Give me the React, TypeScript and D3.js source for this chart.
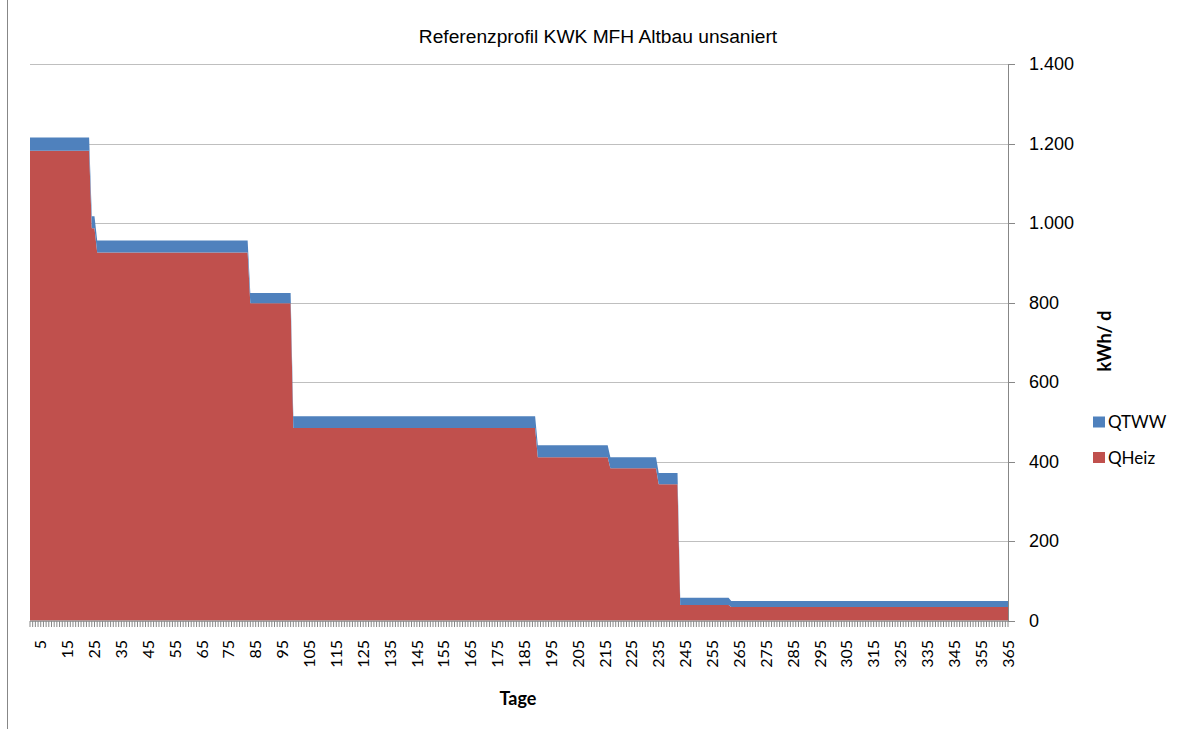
import React from "react";
import * as d3 from "d3";

// Step segments of the daily profile (days, kWh/d)
const segStart = [1, 24, 26, 83, 99, 190, 217, 235, 243, 262];
const segEnd = [23, 25, 82, 98, 189, 216, 234, 242, 261, 365];
const qHeiz = [1182, 987, 926, 798, 484, 411, 383, 343, 39, 34];
const qTWW = [33, 30, 30, 26, 30, 30, 28, 28, 18, 15];

const seriesKeys = ["QHeiz", "QTWW"];
const seriesColors: Record<string, string> = { QHeiz: "#C0504D", QTWW: "#4F81BD" };
const legendOrder = ["QTWW", "QHeiz"];
const yTicks = [0, 200, 400, 600, 800, 1000, 1200, 1400];
const xLabelDays = d3.range(5, 366, 10);

const title = "Referenzprofil KWK MFH Altbau unsaniert";
const xTitle = "Tage";
const yTitle = "kWh/ d";

type Row = { day: number; QHeiz: number; QTWW: number };

const rows: Row[] = [];
segStart.forEach((s, i) => {
  for (let d = s; d <= segEnd[i]; d++) {
    rows.push({ day: d, QHeiz: qHeiz[i], QTWW: qTWW[i] });
  }
});

const fmt = (v: number) => d3.format(",")(v).replace(/,/g, ".");

export default function App() {
  const W = 1186, H = 729;
  const left = 30, right = 1008, top = 64, bottom = 620.5;
  const x = d3.scaleLinear().domain([1, 365]).range([left, right]);
  const y = d3.scaleLinear().domain([0, 1400]).range([bottom, top]);
  const stack = d3.stack<Row>().keys(seriesKeys);
  const layers = stack(rows);
  const area = d3
    .area<d3.SeriesPoint<Row>>()
    .x((d) => x(d.data.day))
    .y0((d) => y(d[0]))
    .y1((d) => y(d[1]));
  const allDays = d3.range(1, 366);
  const axisFont = "'Liberation Sans', Arial, sans-serif";
  const calFont = "Lato, 'Open Sans', sans-serif";

  return (
    <svg
      width={W}
      height={H}
      style={{ position: "absolute", left: 0, top: 0, background: "#fff" }}
    >
      <rect x={0} y={0} width={W} height={H} fill="#fff" />
      <line x1={7.5} x2={7.5} y1={0} y2={H} stroke="#878787" strokeWidth={1} />
      <text
        x={598}
        y={43}
        textAnchor="middle"
        fontFamily={axisFont}
        fontSize={19.2}
        fill="#000"
      >
        {title}
      </text>
      {yTicks.map((t) => (
        <line
          key={"g" + t}
          x1={left}
          x2={right}
          y1={Math.round(y(t)) + 0.5}
          y2={Math.round(y(t)) + 0.5}
          stroke="#BFBFBF"
          strokeWidth={1}
        />
      ))}
      {layers.map((layer) => (
        <path key={layer.key} d={area(layer) || ""} fill={seriesColors[layer.key]} />
      ))}
      {/* x axis */}
      <line x1={left} x2={right} y1={621} y2={621} stroke="#878787" strokeWidth={1} />
      {allDays.map((d) => (
        <line
          key={"xt" + d}
          x1={x(d)}
          x2={x(d)}
          y1={621}
          y2={627}
          stroke="#878787"
          strokeWidth={1}
        />
      ))}
      {xLabelDays.map((d) => (
        <text
          key={"xl" + d}
          transform={`translate(${x(d)},640) rotate(-90)`}
          textAnchor="end"
          dy="0.35em"
          fontFamily={calFont}
          fontSize={16}
          fill="#000"
        >
          {d}
        </text>
      ))}
      {/* right y axis */}
      <line x1={right + 0.5} x2={right + 0.5} y1={top} y2={621} stroke="#878787" strokeWidth={1} />
      {yTicks.map((t) => (
        <g key={"yt" + t}>
          <line
            x1={right}
            x2={right + 7}
            y1={Math.round(y(t)) + 0.5}
            y2={Math.round(y(t)) + 0.5}
            stroke="#878787"
            strokeWidth={1}
          />
          <text
            x={1029}
            y={y(t)}
            dy="0.36em"
            fontFamily={axisFont}
            fontSize={18}
            fill="#000"
          >
            {fmt(t)}
          </text>
        </g>
      ))}
      <text
        x={518}
        y={705}
        textAnchor="middle"
        fontFamily={calFont}
        fontWeight="bold"
        fontSize={18}
        fill="#000"
      >
        {xTitle}
      </text>
      <text
        transform="translate(1105,341) rotate(-90)"
        textAnchor="middle"
        dy="0.35em"
        fontFamily={calFont}
        fontWeight="bold"
        fontSize={18}
        fill="#000"
      >
        {yTitle}
      </text>
      {legendOrder.map((k, i) => (
        <g key={"lg" + k} transform={`translate(1093,${422 + i * 35.5})`}>
          <rect x={0} y={-5.5} width={12} height={11} fill={seriesColors[k]} />
          <text x={15} y={0} dy="0.36em" fontFamily={calFont} fontSize={17} fill="#000">
            {k}
          </text>
        </g>
      ))}
    </svg>
  );
}
